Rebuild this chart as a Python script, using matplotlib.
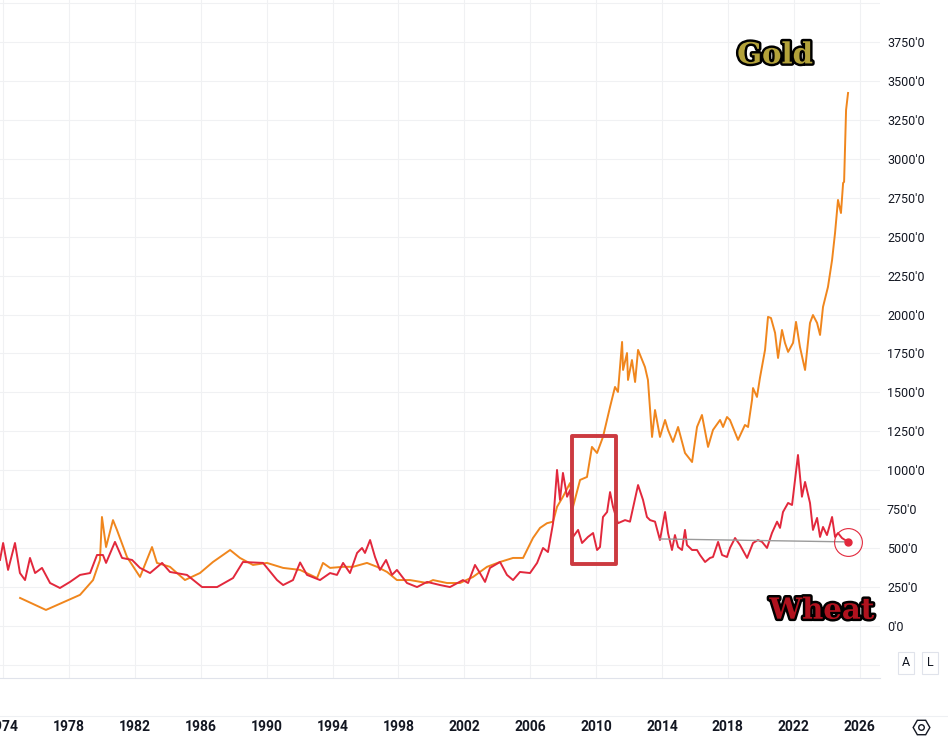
import matplotlib.pyplot as plt
import matplotlib.patheffects as pe
from matplotlib.patches import Rectangle
from matplotlib.lines import Line2D

# Gold price (USD/oz)
gold_years = [1975.03, 1976.60, 1978.67, 1979.46, 1979.88, 1980.00, 1980.25, 1980.67, 1980.91, 1981.52,
              1982.31, 1983.04, 1983.34, 1984.13, 1985.04, 1985.95, 1986.74, 1987.78, 1988.38, 1989.17,
              1990.02, 1991.00, 1992.03, 1993.06, 1993.42, 1993.85, 1994.64, 1995.24, 1996.09, 1996.70,
              1997.31, 1997.91, 1998.70, 1999.74, 2000.10, 2000.95, 2001.74, 2002.53, 2003.38, 2004.17,
              2004.96, 2005.57, 2006.17, 2006.60, 2007.02, 2007.39, 2007.63, 2007.99, 2008.42, 2008.60,
              2009.03, 2009.45, 2009.75, 2010.06, 2010.42, 2010.85, 2011.15, 2011.33, 2011.58, 2011.64,
              2011.88, 2011.94, 2012.18, 2012.37, 2012.55, 2012.97, 2013.15, 2013.40, 2013.58, 2013.88,
              2014.19, 2014.37, 2014.67, 2014.98, 2015.40, 2015.83, 2016.13, 2016.43, 2016.80, 2017.10,
              2017.53, 2017.71, 2017.95, 2018.13, 2018.62, 2019.04, 2019.23, 2019.47, 2019.53, 2019.77,
              2019.95, 2020.26, 2020.44, 2020.62, 2020.87, 2021.05, 2021.29, 2021.47, 2021.66, 2021.96,
              2022.14, 2022.38, 2022.69, 2022.99, 2023.17, 2023.42, 2023.60, 2023.78, 2024.08, 2024.33,
              2024.51, 2024.69, 2024.87, 2025.00, 2025.06, 2025.18, 2025.30]
gold_values = [180, 103, 200, 295, 424, 700, 507, 680, 617, 443,
               315, 507, 405, 380, 295, 340, 411, 488, 437, 392,
               405, 373, 360, 308, 405, 373, 380, 380, 405, 380,
               347, 295, 295, 276, 295, 276, 276, 315, 380, 411,
               437, 437, 565, 630, 660, 670, 765, 830, 918, 765,
               938, 957, 1150, 1111, 1214, 1407, 1535, 1503, 1824, 1644,
               1753, 1580, 1708, 1567, 1773, 1663, 1580, 1214, 1387, 1214,
               1323, 1259, 1182, 1278, 1111, 1053, 1278, 1355, 1150, 1259,
               1323, 1278, 1342, 1323, 1195, 1291, 1278, 1452, 1528, 1471,
               1593, 1773, 1985, 1978, 1882, 1721, 1901, 1818, 1760, 1818,
               1953, 1792, 1644, 1946, 1997, 1946, 1869, 2049, 2177, 2350,
               2524, 2736, 2652, 2845, 2852, 3314, 3423]

# Wheat price (USc/bu)
wheat_years = [1973.81, 1974.00, 1974.30, 1974.72, 1975.02, 1975.33, 1975.63, 1975.94, 1976.36, 1976.85,
               1977.45, 1978.06, 1978.67, 1979.28, 1979.70, 1980.06, 1980.25, 1980.79, 1981.22, 1981.83,
               1982.31, 1982.92, 1983.65, 1984.13, 1985.16, 1986.08, 1986.99, 1987.96, 1988.56, 1989.78,
               1990.63, 1991.00, 1991.60, 1992.03, 1992.45, 1993.24, 1993.85, 1994.27, 1994.64, 1995.06,
               1995.49, 1995.79, 1995.97, 1996.28, 1996.58, 1996.88, 1997.25, 1997.61, 1997.91, 1998.52,
               1999.13, 1999.74, 2000.53, 2001.13, 2001.92, 2002.23, 2002.65, 2002.95, 2003.26, 2003.56,
               2004.17, 2004.59, 2004.96, 2005.38, 2005.99, 2006.42, 2006.78, 2007.08, 2007.39, 2007.63,
               2007.81, 2007.99, 2008.24, 2008.42, 2008.60, 2008.91, 2009.15, 2009.51, 2009.82, 2010.06,
               2010.24, 2010.42, 2010.67, 2010.85, 2011.03, 2011.33, 2011.76, 2012.06, 2012.55, 2012.85,
               2013.09, 2013.28, 2013.58, 2013.88, 2014.19, 2014.37, 2014.61, 2014.79, 2014.98, 2015.22,
               2015.40, 2015.52, 2015.83, 2016.13, 2016.31, 2016.62, 2016.92, 2017.10, 2017.41, 2017.65,
               2017.95, 2018.13, 2018.44, 2018.74, 2019.17, 2019.53, 2019.83, 2020.08, 2020.38, 2020.68,
               2020.99, 2021.17, 2021.35, 2021.66, 2021.90, 2022.08, 2022.26, 2022.50, 2022.69, 2022.99,
               2023.17, 2023.42, 2023.60, 2023.78, 2024.02, 2024.33, 2024.51, 2024.69, 2024.93, 2025.30]
wheat_values = [424, 533, 360, 533, 340, 295, 437, 340, 373, 276,
                244, 283, 328, 340, 456, 456, 405, 540, 437, 424,
                373, 340, 405, 347, 328, 250, 250, 308, 411, 405,
                295, 263, 295, 408, 328, 295, 340, 328, 405, 340,
                469, 501, 469, 552, 443, 360, 424, 328, 360, 276,
                250, 283, 263, 250, 295, 276, 392, 340, 283, 373,
                411, 328, 295, 347, 340, 405, 501, 475, 660, 1002,
                810, 983, 830, 873, 572, 617, 533, 572, 597, 488,
                507, 700, 732, 860, 765, 660, 680, 670, 905, 810,
                700, 680, 670, 552, 732, 597, 488, 584, 507, 488,
                617, 520, 488, 488, 456, 411, 437, 443, 540, 456,
                443, 501, 565, 520, 437, 533, 552, 540, 501, 597,
                670, 630, 732, 790, 777, 938, 1098, 830, 925, 790,
                617, 694, 572, 636, 584, 700, 572, 597, 565, 540]

# horizontal reference line on wheat
ref_years = [2013.88, 2025.30]
ref_values = [559, 540]

# highlighted window
box_years = [2008.54, 2011.21]
box_values = [398, 1220]

year_ticks = list(range(1974, 2027, 4))
price_ticks = list(range(-250, 4001, 250))
price_labels = ["" if (v < 0 or v > 3750) else f"{v}'0" for v in price_ticks]

fig = plt.figure(figsize=(9.48, 7.39), dpi=100)
ax = fig.add_axes([0, 61 / 739, 880 / 948, 678 / 739])

ax.plot(gold_years, gold_values, color='#f0861d', lw=1.4, zorder=3)
ax.plot(wheat_years, wheat_values, color='#e2283c', lw=1.4, zorder=4)
ax.plot(ref_years, ref_values, color='#9a9a9a', lw=1.0, zorder=5)
ax.plot(wheat_years[-1], wheat_values[-1], 'o', ms=5, color='#e2283c', zorder=6)
ax.plot(wheat_years[-1], wheat_values[-1], 'o', ms=20, mfc='none', mec='#e2283c', mew=0.8, zorder=6)

ax.add_patch(Rectangle((box_years[0], box_values[0]), box_years[1] - box_years[0],
                       box_values[1] - box_values[0], fill=False, ec='#cc3a40', lw=2.8,
                       joinstyle='round', zorder=7))

ax.set_xlim(1973.81, 2027.24)
ax.set_ylim(-334, 4020)
ax.set_xticks(year_ticks)
ax.set_xticklabels([str(y) for y in year_ticks], fontfamily='Roboto', fontweight='bold',
                   fontsize=10, color='#131722')
ax.set_yticks(price_ticks)
ax.set_yticklabels(price_labels, fontfamily='Roboto', fontsize=9, color='#131722')
ax.yaxis.tick_right()
ax.tick_params(axis='x', length=0, pad=30)
ax.tick_params(axis='y', length=0, pad=5)
ax.grid(True, color='#f0f1f3', lw=0.8)
for s in ['top', 'left', 'right']:
    ax.spines[s].set_visible(False)
ax.spines['bottom'].set_color('#e0e3eb')

outline = [pe.Stroke(linewidth=3.5, foreground='black'), pe.Normal()]
ax.text(0.8807, 0.919, 'Gold', transform=ax.transAxes, ha='center', va='center',
        fontfamily='DejaVu Serif', fontweight='bold', fontsize=21, color='#b3a23a',
        path_effects=outline, zorder=8)
ax.text(0.934, 0.100, 'Wheat', transform=ax.transAxes, ha='center', va='center',
        fontfamily='DejaVu Serif', fontweight='bold', fontsize=21, color='#b0121e',
        path_effects=outline, zorder=8)

# A / L buttons and settings icon
btn = dict(boxstyle='square,pad=0.35', fc='white', ec='#e0e3eb', lw=0.8)
fig.text(906 / 948, 1 - 663 / 739, 'A', ha='center', va='center', fontsize=9,
         fontfamily='Roboto', color='#131722', bbox=btn)
fig.text(930 / 948, 1 - 663 / 739, 'L', ha='center', va='center', fontsize=9,
         fontfamily='Roboto', color='#131722', bbox=btn)
fig.add_artist(Line2D([0, 1], [1 - 716 / 739] * 2, color='#eef0f3', lw=0.8))
fig.add_artist(Line2D([921 / 948], [1 - 727 / 739], marker='H', ms=12, mfc='none',
                      mec='#131722', mew=1.0))
fig.add_artist(Line2D([921 / 948], [1 - 727 / 739], marker='o', ms=4, mfc='none',
                      mec='#131722', mew=1.0))

fig.savefig('out.png', dpi=100)
